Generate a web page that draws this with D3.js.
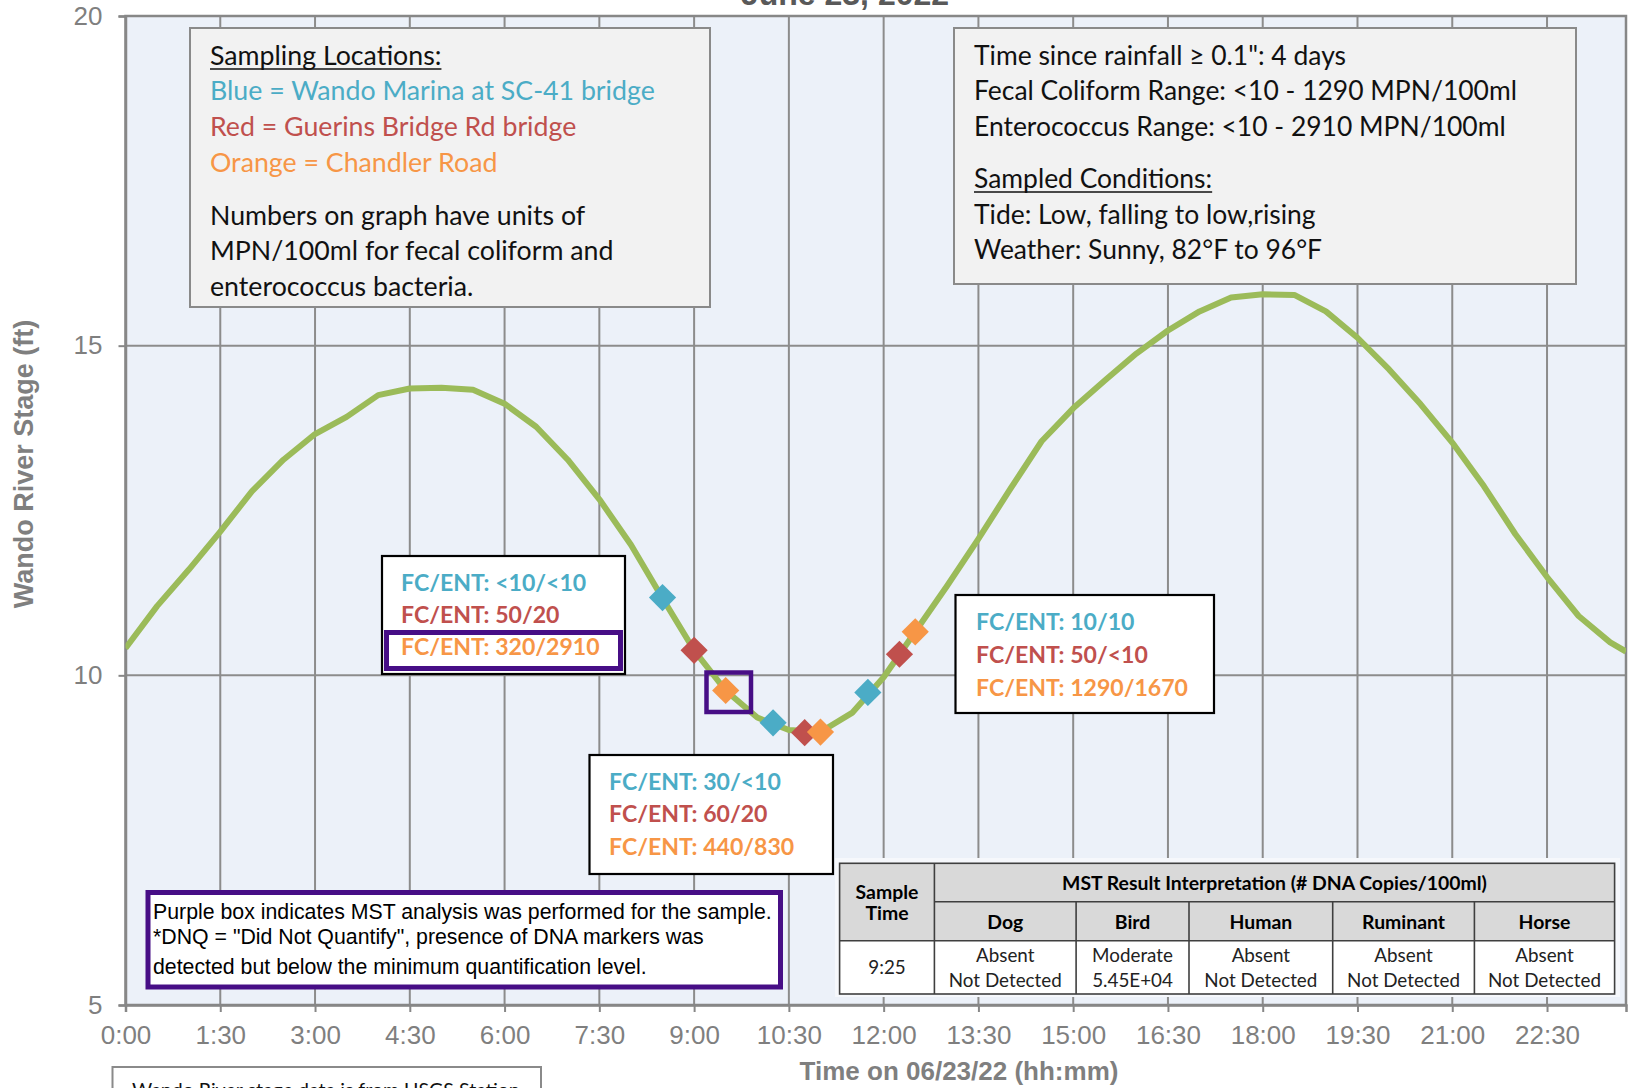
<!DOCTYPE html>
<html>
<head>
<meta charset="utf-8">
<script src="https://cdn.jsdelivr.net/npm/d3@7"></script>
<style>
  html, body { margin: 0; padding: 0; background: #ffffff; }
  svg { display: block; }
</style>
</head>
<body>
<svg id="chart" width="1628" height="1088"></svg>
<script>
// ---------------- DATA ----------------
const chartTitle = "June 23, 2022";
const xAxisTitle = "Time on 06/23/22 (hh:mm)";
const yAxisTitle = "Wando River Stage (ft)";

const xTickLabels = ["0:00","1:30","3:00","4:30","6:00","7:30","9:00","10:30","12:00","13:30","15:00","16:30","18:00","19:30","21:00","22:30"];
const yTickValues = [5, 10, 15, 20];

const stageTimes = ["0:00","0:30","1:00","1:30","2:00","2:30","3:00","3:30","4:00","4:30","5:00","5:30",
  "6:00","6:30","7:00","7:30","8:00","8:30","9:00","9:30","10:00","10:30","11:00","11:30",
  "12:00","12:30","13:00","13:30","14:00","14:30","15:00","15:30","16:00","16:30","17:00","17:30",
  "18:00","18:30","19:00","19:30","20:00","20:30","21:00","21:30","22:00","22:30","23:00","23:30","23:45"];
const stageFeet = [10.41, 11.05, 11.60, 12.18, 12.79, 13.27, 13.66, 13.92, 14.25, 14.35, 14.36, 14.33,
  14.12, 13.77, 13.27, 12.67, 11.98, 11.17, 10.38, 9.77, 9.36, 9.17, 9.14, 9.43,
  9.97, 10.66, 11.35, 12.07, 12.82, 13.55, 14.05, 14.47, 14.88, 15.23, 15.52, 15.73,
  15.78, 15.77, 15.52, 15.12, 14.64, 14.11, 13.53, 12.87, 12.14, 11.49, 10.90, 10.50, 10.36];

const blueTimes = ["8:30", "10:15", "11:45"];
const blueFeet = [11.18, 9.28, 9.74];
const redTimes = ["9:00", "10:45", "12:15"];
const redFeet = [10.38, 9.13, 10.32];
const orangeTimes = ["9:30", "11:00", "12:30"];
const orangeFeet = [9.77, 9.14, 10.66];

const legendLines = ["Sampling Locations:", "Blue = Wando Marina at SC-41 bridge", "Red = Guerins Bridge Rd bridge",
  "Orange = Chandler Road", "Numbers on graph have units of", "MPN/100ml for fecal coliform and", "enterococcus bacteria."];
const conditionLines = ["Time since rainfall \u2265 0.1\": 4 days", "Fecal Coliform Range: <10 - 1290 MPN/100ml",
  "Enterococcus Range: <10 - 2910 MPN/100ml", "Sampled Conditions:", "Tide: Low, falling to low,rising",
  "Weather: Sunny, 82\u00b0F to 96\u00b0F"];

const labelsFirstRound = ["FC/ENT: <10/<10", "FC/ENT: 50/20", "FC/ENT: 320/2910"];
const labelsSecondRound = ["FC/ENT: 30/<10", "FC/ENT: 60/20", "FC/ENT: 440/830"];
const labelsThirdRound = ["FC/ENT: 10/10", "FC/ENT: 50/<10", "FC/ENT: 1290/1670"];

const noteLines = ["Purple box indicates MST analysis was performed for the sample.",
  "*DNQ = \"Did Not Quantify\", presence of DNA markers was",
  "detected but below the minimum quantification level."];
const sourceLine = "Wando River stage data is from USGS Station";

const tableTitle = "MST Result Interpretation (# DNA Copies/100ml)";
const tableSampleHeader = ["Sample", "Time"];
const tableSampleTime = "9:25";
const tableSources = ["Dog", "Bird", "Human", "Ruminant", "Horse"];
const tableResults = ["Absent", "Moderate", "Absent", "Absent", "Absent"];
const tableDetails = ["Not Detected", "5.45E+04", "Not Detected", "Not Detected", "Not Detected"];

// ---------------- STYLE ----------------
const C = {
  blue: "#4BACC6", red: "#C0504D", orange: "#F79646", green: "#9BBB59",
  purple: "#470E86", grid: "#8C8C8C", axis: "#878787", axisText: "#7F7F7F",
  plotBg: "#ECF1F9", boxFill: "#F2F2F2", boxStroke: "#8A8A8A"
};
const ARIAL = "'Liberation Sans', Arial, sans-serif";
const CAL = "Lato, 'Open Sans', sans-serif";

const parseT = s => { const [h, m] = s.split(":").map(Number); return h + m / 60; };

const svg = d3.select("#chart");
const x = d3.scaleLinear().domain([0, 23.75]).range([125.5, 1626]);
const y = d3.scaleLinear().domain([5, 20]).range([1005, 16]);

function fit(sel, refText, target) {
  const ref = sel.nodes().find(n => n.textContent === refText);
  const fs = parseFloat(ref.getAttribute("font-size"));
  const w = ref.getComputedTextLength();
  sel.attr("font-size", (fs * target / w).toFixed(2));
}

// plot background
svg.append("rect")
  .attr("x", x(0)).attr("y", y(20))
  .attr("width", x(23.75) - x(0)).attr("height", y(5) - y(20))
  .attr("fill", C.plotBg);

// gridlines
const grid = svg.append("g").attr("stroke", C.grid).attr("stroke-width", 2);
grid.selectAll("line.v").data(xTickLabels.slice(1).map(parseT)).join("line")
  .attr("x1", d => x(d)).attr("x2", d => x(d)).attr("y1", y(20)).attr("y2", y(5));
grid.selectAll("line.h").data(yTickValues.filter(v => v > 5 && v < 20)).join("line")
  .attr("x1", x(0)).attr("x2", x(23.75)).attr("y1", d => y(d)).attr("y2", d => y(d));

// frame
svg.append("rect")
  .attr("x", x(0)).attr("y", y(20))
  .attr("width", x(23.75) - x(0)).attr("height", y(5) - y(20))
  .attr("fill", "none").attr("stroke", C.axis).attr("stroke-width", 2.5);

// axes
const xAxis = d3.axisBottom(x).tickValues(xTickLabels.map(parseT))
  .tickFormat((d, i) => xTickLabels[i]).tickSize(7).tickPadding(14);
svg.append("g").attr("transform", `translate(0,${y(5)})`).call(xAxis)
  .attr("font-family", ARIAL).attr("font-size", 26)
  .call(g => g.select(".domain").attr("stroke", C.axis).attr("stroke-width", 2.5))
  .call(g => g.selectAll(".tick line").attr("stroke", C.axis).attr("stroke-width", 2))
  .call(g => g.selectAll(".tick text").attr("fill", C.axisText));

const yAxis = d3.axisLeft(y).tickValues(yTickValues).tickFormat(d3.format("d")).tickSize(7).tickPadding(16);
svg.append("g").attr("transform", `translate(${x(0)},0)`).call(yAxis)
  .attr("font-family", ARIAL).attr("font-size", 26)
  .call(g => g.select(".domain").attr("stroke", C.axis).attr("stroke-width", 2.5))
  .call(g => g.selectAll(".tick line").attr("stroke", C.axis).attr("stroke-width", 2))
  .call(g => g.selectAll(".tick text").attr("fill", C.axisText));

// titles
svg.append("text").attr("x", 845).attr("y", 5).attr("text-anchor", "middle")
  .attr("font-family", ARIAL).attr("font-weight", "bold").attr("font-size", 32)
  .attr("fill", "#595959").text(chartTitle);
svg.append("text").attr("x", 959).attr("y", 1080).attr("text-anchor", "middle")
  .attr("font-family", ARIAL).attr("font-weight", "bold").attr("font-size", 26)
  .attr("fill", C.axisText).text(xAxisTitle);
svg.append("text").attr("transform", "translate(33,464) rotate(-90)").attr("text-anchor", "middle")
  .attr("font-family", ARIAL).attr("font-weight", "bold").attr("font-size", 27)
  .attr("fill", C.axisText).text(yAxisTitle);

// stage line
svg.append("clipPath").attr("id", "plotclip").append("rect")
  .attr("x", x(0)).attr("y", y(20)).attr("width", x(23.75) - x(0)).attr("height", y(5) - y(20));
const stage = stageTimes.map((t, i) => ({ h: parseT(t), v: stageFeet[i] }));
svg.append("path").datum(stage)
  .attr("clip-path", "url(#plotclip)")
  .attr("fill", "none").attr("stroke", C.green).attr("stroke-width", 6)
  .attr("stroke-linejoin", "round")
  .attr("d", d3.line().x(d => x(d.h)).y(d => y(d.v)));

// markers
const diamond = d3.symbol(d3.symbolSquare, 370);
[[blueTimes, blueFeet, C.blue], [redTimes, redFeet, C.red], [orangeTimes, orangeFeet, C.orange]]
  .forEach(([ts, vs, col]) => {
    svg.append("g").selectAll("path").data(ts.map((t, i) => ({ h: parseT(t), v: vs[i] }))).join("path")
      .attr("transform", d => `translate(${x(d.h)},${y(d.v)}) rotate(45)`)
      .attr("d", diamond).attr("fill", col);
  });

// purple box around MST sample marker
svg.append("rect").attr("x", 706.5).attr("y", 672.5).attr("width", 44.5).attr("height", 39.5)
  .attr("fill", "none").attr("stroke", C.purple).attr("stroke-width", 4.5);

// legend box (top-left)
svg.append("rect").attr("x", 190).attr("y", 28).attr("width", 520).attr("height", 279)
  .attr("fill", C.boxFill).attr("stroke", C.boxStroke).attr("stroke-width", 2);
const legendColors = ["#111", C.blue, C.red, C.orange, "#111", "#111", "#111"];
const legendBase = [65, 100, 136, 172, 225, 260, 296];
const legT = svg.append("g").selectAll("text").data(legendLines).join("text")
  .attr("x", 210).attr("y", (d, i) => legendBase[i])
  .attr("font-family", CAL).attr("font-size", 26).attr("fill", (d, i) => legendColors[i]).text(d => d);
fit(legT, legendLines[1], 445);
{
  const n = legT.nodes()[0];
  svg.append("line").attr("x1", 210).attr("x2", 210 + n.getComputedTextLength())
    .attr("y1", 69).attr("y2", 69).attr("stroke", "#111").attr("stroke-width", 1.6);
}

// conditions box (top-right)
svg.append("rect").attr("x", 954).attr("y", 28).attr("width", 622).attr("height", 256)
  .attr("fill", C.boxFill).attr("stroke", C.boxStroke).attr("stroke-width", 2);
const condBase = [65, 100, 136, 188, 224, 259];
const condT = svg.append("g").selectAll("text").data(conditionLines).join("text")
  .attr("x", 974).attr("y", (d, i) => condBase[i])
  .attr("font-family", CAL).attr("font-size", 26).attr("fill", "#111").text(d => d);
fit(condT, conditionLines[1], 543);
{
  const n = condT.nodes()[3];
  svg.append("line").attr("x1", 974).attr("x2", 974 + n.getComputedTextLength())
    .attr("y1", 192).attr("y2", 192).attr("stroke", "#111").attr("stroke-width", 1.6);
}

// FC/ENT annotation boxes
const roundColors = [C.blue, C.red, C.orange];
function annot(lines, bx, by, bw, bh, tx, bases) {
  svg.append("rect").attr("x", bx).attr("y", by).attr("width", bw).attr("height", bh)
    .attr("fill", "#ffffff").attr("stroke", "#000").attr("stroke-width", 2.2);
  return svg.append("g").selectAll("text").data(lines).join("text")
    .attr("x", tx).attr("y", (d, i) => bases[i])
    .attr("font-family", CAL).attr("font-weight", "bold").attr("font-size", 24)
    .attr("fill", (d, i) => roundColors[i]).text(d => d);
}
const a1 = annot(labelsFirstRound, 382, 556, 243, 118, 401, [591, 623, 655]);
const a2 = annot(labelsSecondRound, 589.5, 755, 243.5, 119, 609, [790, 822, 855]);
const a3 = annot(labelsThirdRound, 955.5, 595, 258.5, 118, 976, [630, 663, 696]);
fit(a3, labelsThirdRound[2], 212);
const fcSize = a3.attr("font-size");
a1.attr("font-size", fcSize); a2.attr("font-size", fcSize);
// purple highlight around MST sample label
svg.append("rect").attr("x", 386.5).attr("y", 632.5).attr("width", 234).attr("height", 36)
  .attr("fill", "none").attr("stroke", C.purple).attr("stroke-width", 5);

// note box
svg.append("rect").attr("x", 148).attr("y", 892.5).attr("width", 632.5).attr("height", 94.5)
  .attr("fill", "#ffffff").attr("stroke", C.purple).attr("stroke-width", 5);
const noteT = svg.append("g").selectAll("text").data(noteLines).join("text")
  .attr("x", 153).attr("y", (d, i) => [919, 943.5, 973.5][i])
  .attr("font-family", ARIAL).attr("font-size", 20).attr("fill", "#000").text(d => d);
fit(noteT, noteLines[0], 619);

// source box (bottom-left, partly cut off as in the reference)
svg.append("rect").attr("x", 112.5).attr("y", 1067).attr("width", 428.5).attr("height", 40)
  .attr("fill", "#ffffff").attr("stroke", C.boxStroke).attr("stroke-width", 2);
const srcT = svg.append("text").attr("x", 132).attr("y", 1097)
  .attr("font-family", CAL).attr("font-size", 19).attr("fill", "#111").text(sourceLine);
fit(srcT, sourceLine, 388);

// MST table
svg.append("rect").attr("x", 835).attr("y", 858).attr("width", 785).attr("height", 139)
  .attr("fill", "#F6F8FC");
const colX = [839.6, 934.4, 1076.1, 1189, 1332.7, 1474.4, 1614.6];
const rowY = [863.3, 901.7, 940.7, 994];
const tb = svg.append("g");
tb.append("rect").attr("x", colX[0]).attr("y", rowY[0]).attr("width", colX[6] - colX[0]).attr("height", rowY[2] - rowY[0])
  .attr("fill", "#D9D9D9");
tb.append("rect").attr("x", colX[0]).attr("y", rowY[2]).attr("width", colX[6] - colX[0]).attr("height", rowY[3] - rowY[2])
  .attr("fill", "#ffffff");
const tbl = tb.append("g").attr("stroke", "#3F3F3F").attr("stroke-width", 1.6);
tbl.append("rect").attr("x", colX[0]).attr("y", rowY[0]).attr("width", colX[6] - colX[0]).attr("height", rowY[3] - rowY[0]).attr("fill", "none");
tbl.append("line").attr("x1", colX[1]).attr("x2", colX[6]).attr("y1", rowY[1]).attr("y2", rowY[1]);
tbl.append("line").attr("x1", colX[0]).attr("x2", colX[6]).attr("y1", rowY[2]).attr("y2", rowY[2]);
tbl.append("line").attr("x1", colX[1]).attr("x2", colX[1]).attr("y1", rowY[0]).attr("y2", rowY[3]);
colX.slice(2, 6).forEach(cx => tbl.append("line").attr("x1", cx).attr("x2", cx).attr("y1", rowY[1]).attr("y2", rowY[3]));

const boldTexts = [];
boldTexts.push({ t: tableTitle, x: (colX[1] + colX[6]) / 2, y: 883 });
boldTexts.push({ t: tableSampleHeader[0], x: (colX[0] + colX[1]) / 2, y: 891.7 });
boldTexts.push({ t: tableSampleHeader[1], x: (colX[0] + colX[1]) / 2, y: 913.3 });
tableSources.forEach((s, i) => boldTexts.push({ t: s, x: (colX[i + 1] + colX[i + 2]) / 2, y: 921.7 }));
const tBold = tb.append("g").selectAll("text").data(boldTexts).join("text")
  .attr("x", d => d.x).attr("y", d => d.y).attr("dy", "0.36em").attr("text-anchor", "middle")
  .attr("font-family", CAL).attr("font-weight", "bold").attr("font-size", 19).attr("fill", "#000")
  .text(d => d.t);
fit(tBold, tableTitle, 425);

const regTexts = [{ t: tableSampleTime, x: (colX[0] + colX[1]) / 2, y: 967.7 }];
tableResults.forEach((s, i) => regTexts.push({ t: s, x: (colX[i + 1] + colX[i + 2]) / 2, y: 955.7 }));
tableDetails.forEach((s, i) => regTexts.push({ t: s, x: (colX[i + 1] + colX[i + 2]) / 2, y: 980.7 }));
const tReg = tb.append("g").selectAll("text").data(regTexts).join("text")
  .attr("x", d => d.x).attr("y", d => d.y).attr("dy", "0.36em").attr("text-anchor", "middle")
  .attr("font-family", CAL).attr("font-size", 19).attr("fill", "#222")
  .text(d => d.t);
fit(tReg, "Not Detected", 113);
</script>
</body>
</html>
